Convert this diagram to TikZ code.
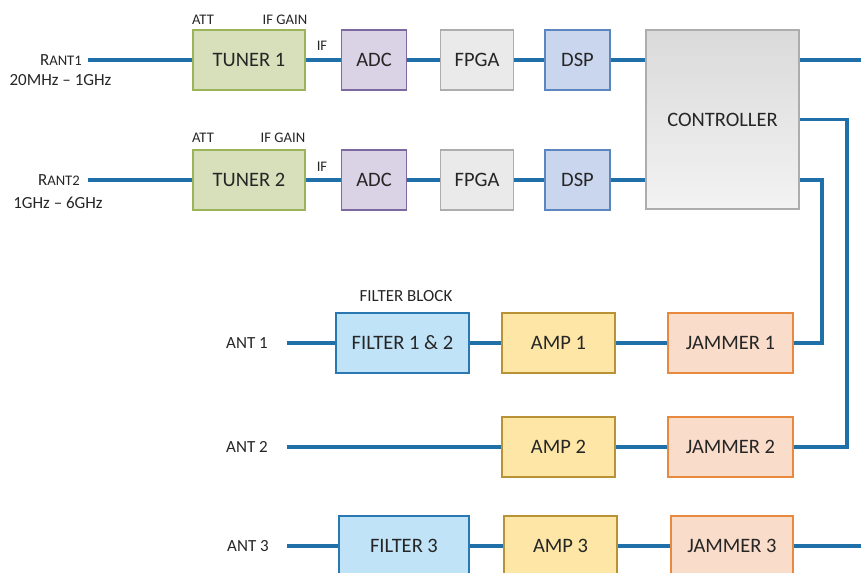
\documentclass[tikz,border=0pt]{standalone}
\usepackage{fontspec}
\setmainfont{Carlito}
\usepackage{tikz}
\usetikzlibrary{calc}

\definecolor{wireblue}{HTML}{1F6FA8}
\definecolor{ink}{HTML}{262626}
\definecolor{tunerfill}{HTML}{D7E0BB}
\definecolor{tunerline}{HTML}{9BB35A}
\definecolor{adcfill}{HTML}{DAD3E6}
\definecolor{adcline}{HTML}{7D68A0}
\definecolor{grayfill}{HTML}{EAEAEA}
\definecolor{grayline}{HTML}{ADADAD}
\definecolor{dspfill}{HTML}{C9D6EE}
\definecolor{dspline}{HTML}{5B86C0}
\definecolor{filtfill}{HTML}{C0E3F8}
\definecolor{filtline}{HTML}{2A78B2}
\definecolor{ampfill}{HTML}{FDE6A6}
\definecolor{ampline}{HTML}{B99235}
\definecolor{jamfill}{HTML}{FADCCA}
\definecolor{jamline}{HTML}{E7893F}

\tikzset{
  blk/.style 2 args={draw, line width=1.6pt, inner sep=0pt, text=ink,
    minimum width=#1*0.3mm, minimum height=#2*0.3mm,
    font=\fontsize{17.5}{20}\selectfont},
  tuner/.style={blk={112}{60}, fill=tunerfill, draw=tunerline},
  adc/.style={blk={65}{60}, fill=adcfill, draw=adcline},
  fpga/.style={blk={73}{60}, fill=grayfill, draw=grayline},
  dsp/.style={blk={65}{60}, fill=dspfill, draw=dspline},
  filt/.style={blk={#1}{60}, fill=filtfill, draw=filtline},
  amp/.style={blk={113}{60}, fill=ampfill, draw=ampline},
  jam/.style={blk={#1}{60}, fill=jamfill, draw=jamline},
  lbl/.style={text=ink, inner sep=0pt, font=\fontsize{14.5}{17}\selectfont},
  tiny/.style={text=ink, inner sep=0pt, font=\fontsize{12.5}{14}\selectfont},
  conn/.style={draw=wireblue, line width=2.7pt}
}

\begin{document}
\begin{tikzpicture}[x=0.03cm,y=-0.03cm]
\useasboundingbox (0,0) rectangle (861,573);

% receiver chains
\node[tuner] (tunerA) at (249,60) {TUNER 1};
\node[adc] (adcA) at (374,60) {ADC};
\node[fpga] (fpgaA) at (477,60) {FPGA};
\node[dsp] (dspA) at (577.5,60) {DSP};
\node[tuner] (tunerB) at (249,180) {TUNER 2};
\node[adc] (adcB) at (374,180) {ADC};
\node[fpga] (fpgaB) at (477,180) {FPGA};
\node[dsp] (dspB) at (577.5,180) {DSP};
\node[blk={153}{179}, draw=grayline, top color=grayfill!85!gray, bottom color=grayfill!60!white] (ctrl) at (722.5,119.5) {CONTROLLER};

\node[tiny] at (203,20) {ATT};
\node[tiny] at (285,20) {IF GAIN};
\node[tiny] at (322,46) {IF};
\node[tiny] at (203,138) {ATT};
\node[tiny] at (283,138) {IF GAIN};
\node[tiny] at (322,167) {IF};

\coordinate (rantA) at (88,60);
\coordinate (rantB) at (88,180);
\node[lbl, anchor=east] (rantAlbl) at (82,60) {R{\fontsize{12.5}{14}\selectfont ANT1}};
\node[lbl] at (60.5,80) {20MHz -- 1GHz};
\node[lbl, anchor=east] (rantBlbl) at (80,180) {R{\fontsize{12.5}{14}\selectfont ANT2}};
\node[lbl] at (58,203) {1GHz -- 6GHz};

% jammer chains
\node[lbl] at (406,296) {FILTER BLOCK};
\node[filt=133] (filtA) at (402.5,343) {FILTER 1 \& 2};
\node[amp] (ampA) at (558.5,343) {AMP 1};
\node[jam=125] (jamA) at (730.5,343) {JAMMER 1};
\node[amp] (ampB) at (558.5,447) {AMP 2};
\node[jam=125] (jamB) at (730.5,447) {JAMMER 2};
\node[filt=130] (filtC) at (404,546) {FILTER 3};
\node[amp] (ampC) at (560.5,546) {AMP 3};
\node[jam=122] (jamC) at (732,546) {JAMMER 3};

\node[lbl] at (247,343) {ANT 1};
\node[lbl] at (247,447) {ANT 2};
\node[lbl] at (248,546) {ANT 3};
\coordinate (antA) at (287,343);
\coordinate (antB) at (287,447);
\coordinate (antC) at (287,546);
\coordinate (outA) at (861,60);
\coordinate (outC) at (861,546);

% wiring
\draw[conn] (rantA) -- (tunerA) -- (adcA) -- (fpgaA) -- (dspA) -- (dspA -| ctrl.west);
\draw[conn] (rantB) -- (tunerB) -- (adcB) -- (fpgaB) -- (dspB) -- (dspB -| ctrl.west);
\draw[conn] (ctrl.east |- outA) -- (outA);
\draw[conn] (ctrl.east) -- (847,119.5) |- (jamB);
\draw[conn] (ctrl.east |- dspB) -- (822,180) |- (jamA);
\draw[conn] (antA) -- (filtA) -- (ampA) -- (jamA);
\draw[conn] (antB) -- (ampB) -- (jamB);
\draw[conn] (antC) -- (filtC) -- (ampC) -- (jamC) -- (outC);
\end{tikzpicture}
\end{document}
